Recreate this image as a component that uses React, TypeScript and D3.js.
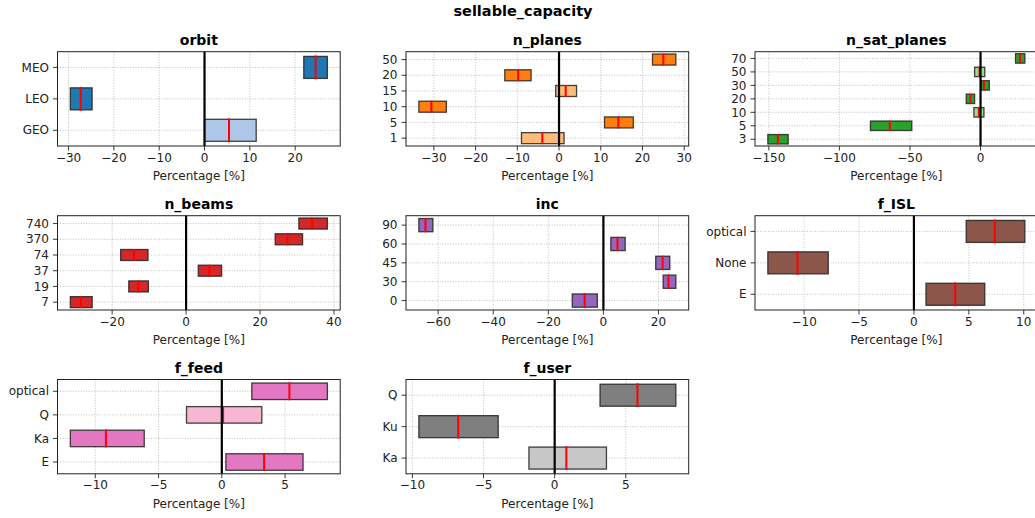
import React from 'react';
import * as d3 from 'd3';

// categories (bottom to top) and [low, median, high] per category, in %
const orbitCats = ['GEO', 'LEO', 'MEO'];
const orbitVals = [[0, 5.4, 11.4], [-29.6, -27.3, -24.8], [21.9, 24.5, 27.1]];

const planesCats = ['1', '5', '10', '15', '20', '50'];
const planesVals = [[-9, -4, 1.2], [10.9, 14.2, 17.8], [-33.6, -30.6, -27], [-0.8, 1.6, 4.2], [-13, -9.8, -6.7], [22.4, 25, 28]];

const satPlanesCats = ['3', '5', '10', '20', '30', '50', '70'];
const satPlanesVals = [[-150.7, -143.6, -136.3], [-78, -64.3, -48.7], [-4.7, -1.2, 2.4], [-10.1, -7.1, -4.2], [0.5, 2.4, 6.2], [-4.2, -0.7, 3.0], [24.8, 27.9, 31.4]];

const beamsCats = ['7', '19', '37', '74', '370', '740'];
const beamsVals = [[-31.3, -28.5, -25.4], [-15.5, -13.0, -10.2], [3.3, 6.3, 9.6], [-17.7, -14.1, -10.3], [24.1, 27.4, 31.5], [30.5, 34.1, 38.2]];

const incCats = ['0', '30', '45', '60', '90'];
const incVals = [[-11.3, -6.8, -2.2], [21.7, 23.6, 26.3], [19, 21.5, 24.1], [2.7, 5.1, 7.9], [-67, -64.6, -61.9]];

const islCats = ['E', 'None', 'optical'];
const islVals = [[1.1, 3.76, 6.45], [-13.3, -10.6, -7.8], [4.76, 7.36, 10.1]];

const feedCats = ['E', 'Ka', 'Q', 'optical'];
const feedVals = [[0.32, 3.34, 6.42], [-11.97, -9.16, -6.13], [-2.79, 0.1, 3.16], [2.37, 5.34, 8.34]];

const userCats = ['Ka', 'Ku', 'Q'];
const userVals = [[-1.81, 0.82, 3.64], [-9.55, -6.78, -3.97], [3.19, 5.82, 8.52]];

const panels = [
  { title: 'orbit', cats: orbitCats, vals: orbitVals, dark: '#1f77b4', light: '#aec7e8' },
  { title: 'n_planes', cats: planesCats, vals: planesVals, dark: '#ff7f0e', light: '#ffbb78' },
  { title: 'n_sat_planes', cats: satPlanesCats, vals: satPlanesVals, dark: '#2ca02c', light: '#98df8a' },
  { title: 'n_beams', cats: beamsCats, vals: beamsVals, dark: '#d62728', light: '#ff9896' },
  { title: 'inc', cats: incCats, vals: incVals, dark: '#9467bd', light: '#c5b0d5' },
  { title: 'f_ISL', cats: islCats, vals: islVals, dark: '#8c564b', light: '#c49c94' },
  { title: 'f_feed', cats: feedCats, vals: feedVals, dark: '#e377c2', light: '#f7b6d2' },
  { title: 'f_user', cats: userCats, vals: userVals, dark: '#7f7f7f', light: '#c7c7c7' },
];

const W = 1035;
const H = 518;
const colX = [57.5, 406, 755];
const rowY = [51.7, 215.7, 379.5];
const axW = 282.7;
const axH = 94.3;
const font = 'DejaVu Sans';
const fmt = d3.format('');

const Panel = ({ p, x0, y0 }: any) => {
  const lo = d3.min(p.vals, (d: number[]) => d[0]) as number;
  const hi = d3.max(p.vals, (d: number[]) => d[2]) as number;
  const pad = (hi - lo) * 0.05;
  const xs = d3.scaleLinear().domain([lo - pad, hi + pad]).range([0, axW]);
  const n = p.cats.length;
  const ys = d3.scaleLinear().domain([-0.5, n - 0.5]).range([axH, 0]);
  const ticks = xs.ticks(5);
  const bh = 0.7;

  return (
    <g transform={`translate(${x0},${y0})`}>
      {/* grid */}
      {ticks.map((t) => (
        <line key={'gx' + t} x1={xs(t)} x2={xs(t)} y1={0} y2={axH} stroke="#b0b0b0" strokeWidth={0.8} strokeDasharray="1,1.6" />
      ))}
      {p.cats.map((c: string, i: number) => (
        <line key={'gy' + c} x1={0} x2={axW} y1={ys(i)} y2={ys(i)} stroke="#b0b0b0" strokeWidth={0.8} strokeDasharray="1,1.6" />
      ))}
      {/* bars */}
      {p.vals.map((d: number[], i: number) => (
        <rect key={'b' + i} x={xs(d[0])} width={xs(d[2]) - xs(d[0])} y={ys(i + bh / 2)} height={ys(i - bh / 2) - ys(i + bh / 2)}
          fill={d[0] <= 0 && d[2] >= 0 ? p.light : p.dark} stroke="#222" strokeOpacity={0.85} strokeWidth={1.3} />
      ))}
      {p.vals.map((d: number[], i: number) => (
        <line key={'m' + i} x1={xs(d[1])} x2={xs(d[1])} y1={ys(i + 0.38)} y2={ys(i - 0.38)} stroke="#ff0000" strokeWidth={2} />
      ))}
      <line x1={xs(0)} x2={xs(0)} y1={0} y2={axH} stroke="#000" strokeWidth={2.2} />
      {/* frame */}
      <rect x={0} y={0} width={axW} height={axH} fill="none" stroke="#222" strokeWidth={1} />
      {/* x axis */}
      {ticks.map((t) => (
        <g key={'tx' + t} transform={`translate(${xs(t)},${axH})`}>
          <line y1={0} y2={4.5} stroke="#222" strokeWidth={0.9} />
          <text y={15.5} textAnchor="middle" fontSize={12} fontFamily={font} fill="#222">{fmt(t)}</text>
        </g>
      ))}
      <text x={axW / 2} y={axH + 34} textAnchor="middle" fontSize={12} fontFamily={font} fill="#222">Percentage [%]</text>
      {/* y axis */}
      {p.cats.map((c: string, i: number) => (
        <g key={'ty' + c} transform={`translate(0,${ys(i)})`}>
          <line x1={0} x2={-4.5} stroke="#222" strokeWidth={0.9} />
          <text x={-8.5} dy="0.35em" textAnchor="end" fontSize={12} fontFamily={font} fill="#222">{c}</text>
        </g>
      ))}
      <text x={axW / 2} y={-6.5} textAnchor="middle" fontSize={14} fontWeight="bold" fontFamily={font} fill="#000">{p.title}</text>
    </g>
  );
};

export default function App() {
  return (
    <svg width={W} height={H} style={{ position: 'fixed', left: 0, top: 0, background: '#fff' }}>
      <rect width={W} height={H} fill="#fff" />
      <text x={523} y={16} textAnchor="middle" fontSize={14.5} fontWeight="bold" fontFamily={font}>sellable_capacity</text>
      {panels.map((p, k) => (
        <Panel key={p.title} p={p} x0={colX[k % 3]} y0={rowY[Math.floor(k / 3)]} />
      ))}
    </svg>
  );
}
